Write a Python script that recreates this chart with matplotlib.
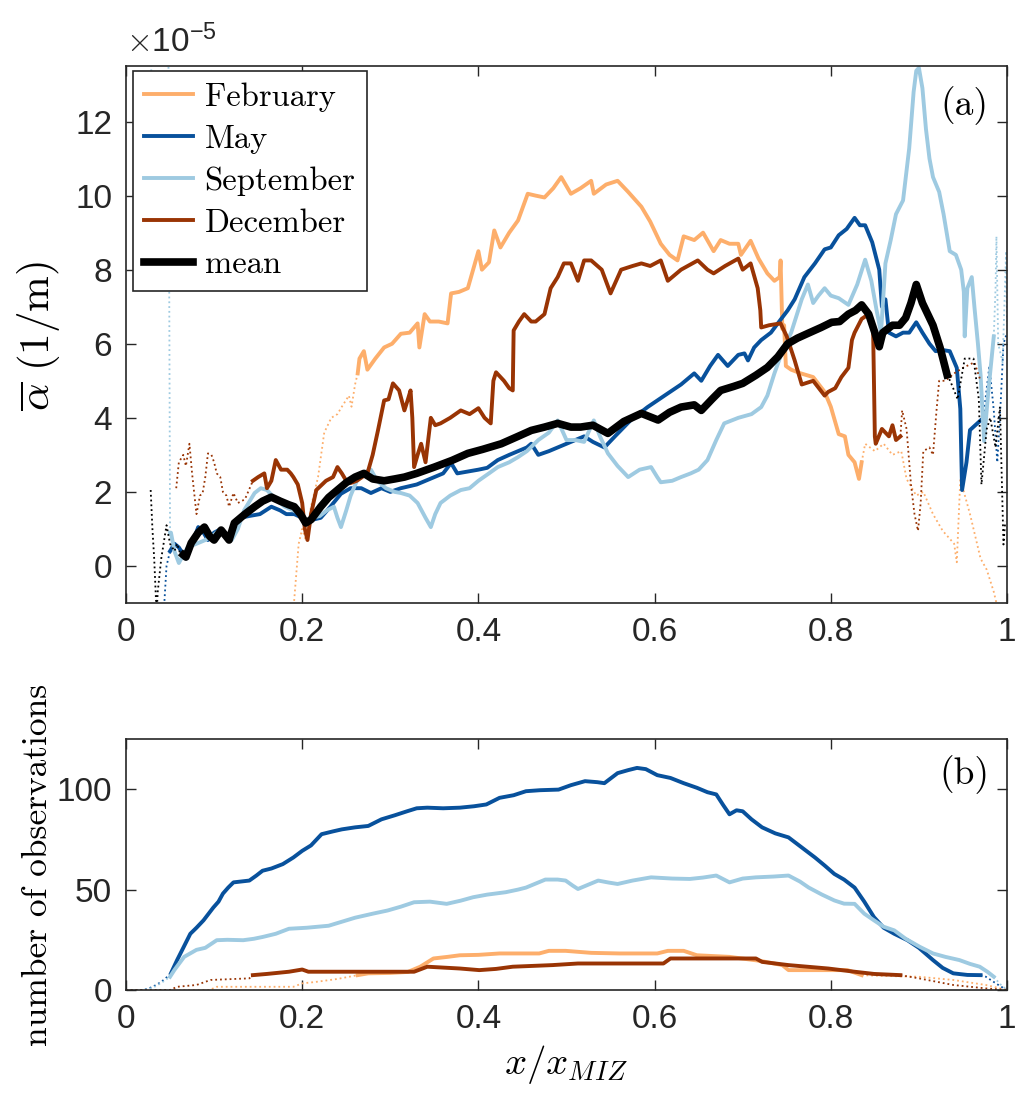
import numpy as np
import matplotlib
matplotlib.use("Agg")
import matplotlib.pyplot as plt
from matplotlib.lines import Line2D
from matplotlib.ticker import FuncFormatter

plt.rcParams['font.family'] = ['Liberation Sans', 'DejaVu Sans']
plt.rcParams['mathtext.fontset'] = 'cm'

# ---- data --------------------------------------------------------------
# (a) mean attenuation, units of 1e-5 1/m
feb_x = [0.190, 0.193, 0.196, 0.200, 0.204, 0.210, 0.218, 0.225, 0.233, 0.240, 0.245, 0.253, 0.256, 0.260, 0.263,
         0.265, 0.270, 0.274, 0.283, 0.293, 0.302, 0.312, 0.322, 0.331, 0.333, 0.339, 0.345, 0.355, 0.365, 0.369,
         0.378, 0.388, 0.400, 0.404, 0.412, 0.418, 0.425, 0.435, 0.445, 0.456, 0.465, 0.475, 0.485, 0.494, 0.505,
         0.516, 0.528, 0.531, 0.545, 0.558, 0.570, 0.585, 0.595, 0.607, 0.617, 0.626, 0.633, 0.645, 0.655, 0.667,
         0.675, 0.685, 0.695, 0.698, 0.709, 0.718, 0.728, 0.736, 0.742, 0.743, 0.745, 0.747, 0.749, 0.755, 0.766,
         0.780, 0.793, 0.800, 0.809, 0.816, 0.820, 0.827, 0.832, 0.835,
         0.839, 0.850, 0.860, 0.870, 0.880, 0.886, 0.897, 0.905, 0.916, 0.927, 0.940, 0.943, 0.947, 0.958, 0.970,
         0.977, 0.985, 0.990]
feb_a = [-1.2, -0.3, 0.6, 1.0, 0.7, 1.6, 2.4, 3.6, 4.0, 4.1, 4.3, 4.6, 4.3, 4.9, 5.2,
         5.6, 5.8, 5.3, 5.6, 5.9, 6.0, 6.27, 6.3, 6.55, 5.9, 6.8, 6.6, 6.6, 6.55, 7.36,
         7.4, 7.5, 8.5, 8.0, 8.2, 9.06, 8.6, 9.0, 9.33, 10.05, 10.0, 9.95, 10.2, 10.5, 10.05,
         10.2, 10.4, 10.05, 10.3, 10.4, 10.1, 9.7, 9.3, 8.7, 8.4, 8.25, 8.9, 8.8, 9.0, 8.5,
         8.8, 8.7, 8.7, 8.4, 8.78, 8.3, 7.9, 7.7, 7.8, 8.25, 6.4, 6.5, 5.4, 5.3, 5.2,
         5.1, 4.7, 4.3, 3.56, 3.5, 3.0, 2.8, 2.35, 2.8,
         3.3, 3.1, 3.3, 3.0, 3.1, 2.35, 1.9, 2.0, 1.4, 0.95, 0.6, 0.1, 2.35, 1.4, 0.2,
         -0.1, -0.7, -1.2]

may_x = [0.043, 0.046, 0.048,
         0.050, 0.055, 0.060, 0.068, 0.075, 0.082, 0.088, 0.093, 0.100, 0.108, 0.117, 0.124, 0.130, 0.140, 0.152,
         0.165, 0.175, 0.182, 0.191, 0.200, 0.204, 0.212, 0.221, 0.232, 0.244, 0.255, 0.267, 0.278, 0.290, 0.300,
         0.312, 0.330, 0.350, 0.360, 0.369, 0.376, 0.388, 0.400, 0.410, 0.422, 0.435, 0.445, 0.455, 0.460, 0.468,
         0.480, 0.490, 0.500, 0.510, 0.520, 0.530, 0.543, 0.555, 0.573, 0.592, 0.615, 0.630, 0.645, 0.653, 0.663,
         0.672, 0.683, 0.695, 0.702, 0.706, 0.713, 0.721, 0.732, 0.743, 0.751, 0.759, 0.770, 0.782, 0.793, 0.800,
         0.809, 0.818, 0.824, 0.827, 0.833, 0.839, 0.847, 0.855, 0.858, 0.862, 0.866, 0.874, 0.882, 0.889, 0.897,
         0.904, 0.912, 0.919, 0.927, 0.935, 0.943, 0.947, 0.949, 0.954, 0.958, 0.964, 0.970,
         0.974, 0.978, 0.980, 0.985, 0.989, 0.993, 0.996, 1.000]
may_a = [-1.2, 0.0, 0.2,
         0.4, 0.6, 0.5, 0.2, 0.6, 1.05, 0.9, 0.7, 0.9, 1.0, 0.7, 1.0, 1.3, 1.35, 1.4,
         1.6, 1.5, 1.4, 1.4, 1.3, 1.2, 1.25, 1.3, 1.6, 1.95, 2.1, 2.1, 1.97, 2.1, 2.0,
         2.1, 2.2, 2.4, 2.5, 2.78, 2.5, 2.55, 2.6, 2.65, 2.86, 3.0, 3.1, 3.2, 3.3, 3.0,
         3.1, 3.2, 3.3, 3.4, 3.5, 3.35, 3.2, 3.5, 3.94, 4.29, 4.66, 4.9, 5.2, 5.0, 5.4,
         5.7, 5.4, 5.7, 5.74, 5.55, 5.9, 6.1, 6.3, 6.65, 6.9, 7.2, 7.8, 8.17, 8.55, 8.6,
         8.93, 9.1, 9.3, 9.4, 9.2, 9.2, 8.74, 8.0, 7.0, 7.2, 6.3, 6.2, 6.3, 6.3, 6.58,
         6.3, 6.0, 5.8, 5.83, 5.8, 5.35, 4.24, 2.05, 2.8, 3.67, 3.8, 3.93,
         4.2, 5.0, 5.4, 4.2, 2.8, 4.5, 6.0, 6.3]

sep_x = [0.028, 0.029, 0.048, 0.050,
         0.051, 0.055, 0.060, 0.065, 0.070, 0.080, 0.090, 0.100, 0.108, 0.120, 0.127, 0.134, 0.146, 0.153, 0.160,
         0.170, 0.180, 0.190, 0.198, 0.205, 0.212, 0.220, 0.228, 0.236, 0.240, 0.244, 0.250, 0.255, 0.262, 0.267,
         0.278, 0.285, 0.295, 0.305, 0.312, 0.322, 0.331, 0.340, 0.346, 0.351, 0.357, 0.368, 0.380, 0.390, 0.400,
         0.412, 0.422, 0.435, 0.445, 0.455, 0.468, 0.480, 0.490, 0.500, 0.510, 0.520, 0.531, 0.538, 0.547, 0.558,
         0.570, 0.583, 0.596, 0.603, 0.607, 0.620, 0.630, 0.641, 0.650, 0.660, 0.670, 0.679, 0.695, 0.710, 0.721,
         0.728, 0.736, 0.745, 0.755, 0.767, 0.774, 0.780, 0.786, 0.793, 0.800, 0.809, 0.820, 0.830, 0.839, 0.846,
         0.852, 0.857, 0.862, 0.868, 0.874, 0.882, 0.889, 0.894, 0.897, 0.900, 0.904, 0.908, 0.912, 0.916, 0.923,
         0.928, 0.932, 0.935, 0.942, 0.948, 0.951, 0.952, 0.955, 0.960, 0.963, 0.967, 0.970, 0.974, 0.978, 0.980,
         0.985,
         0.987, 0.988, 0.990, 0.995, 0.999, 1.000]
sep_a = [10.0, 15.0, 15.0, 0.9,
         0.9, 0.4, 0.08, 0.3, 0.5, 0.6, 0.7, 0.85, 1.0, 0.7, 1.0, 1.5, 1.97, 2.1, 2.05,
         1.8, 1.6, 1.5, 1.4, 1.2, 1.3, 1.35, 1.5, 1.6, 1.3, 1.05, 1.5, 1.9, 2.3, 2.5,
         2.6, 2.3, 2.1, 2.0, 1.97, 1.9, 1.7, 1.3, 1.05, 1.4, 1.7, 1.9, 2.05, 2.1, 2.3,
         2.5, 2.67, 2.8, 2.94, 3.1, 3.4, 3.6, 3.93, 3.4, 3.4, 3.35, 3.93, 3.5, 3.04, 2.7,
         2.4, 2.6, 2.67, 2.4, 2.26, 2.3, 2.4, 2.5, 2.6, 2.86, 3.4, 3.85, 4.0, 4.1, 4.29,
         4.6, 5.2, 5.8, 6.3, 7.2, 7.6, 7.1, 7.3, 7.5, 7.3, 7.23, 7.05, 7.6, 8.27, 7.7,
         6.9, 6.3, 8.17, 8.8, 9.5, 9.87, 11.28, 12.8, 13.37, 13.45, 12.9, 11.8, 11.0, 10.5, 10.1,
         9.5, 8.93, 8.5, 8.4, 8.0, 7.4, 6.2, 7.5, 7.8, 7.0, 6.0, 5.16, 3.37, 4.5, 5.0,
         6.2,
         7.5, 8.9, 6.0, 5.5, 8.5, 6.5]

dec_x = [0.057, 0.060, 0.065, 0.068, 0.072, 0.075, 0.080, 0.084, 0.087, 0.090, 0.093, 0.097, 0.100, 0.103, 0.107,
         0.110, 0.114, 0.117, 0.122, 0.127, 0.135, 0.144,
         0.150, 0.157, 0.160, 0.165, 0.170, 0.176, 0.183, 0.187, 0.190, 0.195, 0.200, 0.203, 0.206, 0.210, 0.216,
         0.227, 0.235, 0.240, 0.245, 0.250, 0.255, 0.262, 0.274, 0.280, 0.286, 0.293, 0.298, 0.303, 0.310, 0.316,
         0.320, 0.323, 0.325, 0.327, 0.331, 0.335, 0.340, 0.346, 0.351, 0.357, 0.368, 0.380, 0.390, 0.400, 0.407,
         0.414, 0.417, 0.420, 0.429, 0.435, 0.439, 0.440, 0.446, 0.452, 0.460, 0.465, 0.475, 0.482, 0.490, 0.497,
         0.505, 0.513, 0.520, 0.528, 0.540, 0.550, 0.562, 0.575, 0.585, 0.595, 0.607, 0.615, 0.630, 0.649, 0.660,
         0.667, 0.680, 0.695, 0.700, 0.709, 0.717, 0.720, 0.721, 0.730, 0.743, 0.750, 0.759, 0.767, 0.780, 0.793,
         0.797, 0.805, 0.812, 0.820, 0.824, 0.827, 0.835, 0.843, 0.848, 0.850, 0.851, 0.858, 0.866, 0.870, 0.874,
         0.879,
         0.881, 0.886, 0.891, 0.895, 0.899, 0.902, 0.905, 0.912, 0.916, 0.920, 0.923, 0.930, 0.940, 0.950, 0.963,
         0.970]
dec_a = [2.1, 2.8, 3.0, 2.7, 3.3, 2.5, 1.4, 1.9, 1.97, 2.4, 3.04, 3.0, 2.8, 2.5, 2.4,
         2.0, 1.9, 1.6, 1.97, 1.7, 1.8, 2.3,
         2.4, 2.5, 2.1, 2.3, 2.86, 2.6, 2.6, 2.5, 2.4, 2.2, 1.7, 1.0, 0.7, 1.4, 2.05,
         2.3, 2.4, 2.67, 2.5, 2.3, 2.24, 2.3, 2.5, 3.0, 3.66, 4.47, 4.5, 4.93, 4.74, 4.2,
         4.5, 4.74, 4.0, 2.67, 3.0, 3.3, 2.8, 4.0, 3.8, 3.85, 4.0, 4.2, 4.1, 4.26, 4.0,
         3.85, 5.0, 5.23, 5.0, 4.8, 4.74, 6.36, 6.6, 6.8, 6.6, 6.6, 6.8, 7.5, 7.8, 8.17,
         8.17, 7.7, 8.25, 8.25, 8.0, 7.36, 8.0, 8.1, 8.17, 8.1, 8.25, 7.7, 8.0, 8.25, 8.0,
         7.9, 8.1, 8.3, 8.0, 8.17, 7.5, 6.9, 6.44, 6.5, 6.55, 6.2, 5.55, 4.9, 5.0, 4.6,
         4.7, 4.8, 5.1, 5.35, 6.1, 6.3, 6.67, 6.8, 6.4, 3.5, 3.3, 3.7, 3.5, 3.8, 3.4,
         3.5,
         4.2, 3.7, 2.2, 1.4, 0.95, 1.7, 3.1, 3.2, 3.0, 4.2, 5.0, 5.0, 5.2, 5.35, 5.5,
         5.0]

mean_x = [0.028, 0.030, 0.032, 0.034, 0.035, 0.036, 0.040, 0.042, 0.046, 0.050, 0.055, 0.058, 0.062, 0.065,
          0.068, 0.074, 0.082, 0.089, 0.095, 0.100, 0.108, 0.117, 0.123, 0.135, 0.146, 0.155, 0.165, 0.175, 0.185,
          0.191, 0.198, 0.204, 0.210, 0.221, 0.230, 0.240, 0.250, 0.260, 0.270, 0.280, 0.293, 0.305, 0.316, 0.330,
          0.350, 0.370, 0.388, 0.405, 0.426, 0.445, 0.460, 0.475, 0.490, 0.505, 0.516, 0.530, 0.547, 0.565, 0.585,
          0.604, 0.617, 0.630, 0.645, 0.653, 0.665, 0.675, 0.690, 0.700, 0.715, 0.728, 0.740, 0.751, 0.762, 0.774,
          0.789, 0.801, 0.810, 0.820, 0.828, 0.835, 0.843, 0.850, 0.855, 0.859, 0.870, 0.878, 0.885, 0.891, 0.897,
          0.904, 0.910, 0.916, 0.924, 0.932,
          0.936, 0.944, 0.952, 0.962, 0.968, 0.971, 0.977, 0.981, 0.987, 0.992, 0.996, 0.998]
mean_a = [2.05, 1.0, 0.2, -0.9, -1.2, -0.7, 0.2, 0.5, 1.1, 0.6, 0.4, 0.6, 0.3, 0.3,
          0.24, 0.62, 0.9, 1.05, 0.8, 0.7, 0.97, 0.7, 1.16, 1.4, 1.6, 1.75, 1.86, 1.75, 1.65,
          1.6, 1.4, 1.16, 1.25, 1.6, 1.85, 2.05, 2.25, 2.4, 2.5, 2.35, 2.3, 2.35, 2.4, 2.5,
          2.67, 2.85, 3.04, 3.15, 3.3, 3.5, 3.66, 3.75, 3.85, 3.75, 3.75, 3.8, 3.58, 3.9, 4.12,
          3.94, 4.15, 4.29, 4.35, 4.2, 4.5, 4.74, 4.85, 4.93, 5.15, 5.36, 5.65, 6.0, 6.15, 6.28,
          6.44, 6.58, 6.6, 6.8, 6.9, 7.05, 6.8, 6.3, 5.92, 6.3, 6.5, 6.5, 6.7, 7.1, 7.6,
          7.1, 6.8, 6.5, 5.9, 5.16,
          4.97, 4.5, 5.6, 5.6, 4.5, 2.2, 3.7, 4.0, 3.2, 4.3, 0.58, 1.2]

# (b) number of observations
feb_nx = [0.000, 0.095, 0.103, 0.190, 0.200, 0.215, 0.240, 0.263, 0.275, 0.300, 0.320, 0.334, 0.349, 0.365,
          0.379, 0.400, 0.424, 0.469, 0.480, 0.499, 0.528, 0.560, 0.603, 0.615, 0.633, 0.648, 0.685, 0.720, 0.745,
          0.752, 0.819, 0.835, 0.860, 0.900, 0.939, 0.976, 1.000]
feb_n = [0, 0, 1.6, 1.6, 3.3, 4, 5.5, 7.4, 8.3, 8.5, 9, 11.6, 15.7, 16.5,
         17.3, 17.5, 18.2, 18.2, 19.5, 19.5, 18.5, 18.2, 18.2, 19.5, 19.5, 17.3, 16.5, 14.5, 12.4,
         9.9, 9.9, 7.4, 7, 6.6, 5, 2.5, 0]

may_nx = [0.000, 0.020, 0.030, 0.040, 0.048, 0.051, 0.058, 0.065, 0.073, 0.080, 0.088, 0.099, 0.105, 0.110,
          0.116, 0.122, 0.130, 0.140, 0.148, 0.155, 0.165, 0.178, 0.190, 0.200, 0.210, 0.222, 0.235, 0.245, 0.260,
          0.275, 0.290, 0.305, 0.319, 0.330, 0.342, 0.360, 0.379, 0.395, 0.409, 0.424, 0.440, 0.454, 0.470, 0.491,
          0.505, 0.521, 0.535, 0.543, 0.558, 0.570, 0.580, 0.590, 0.603, 0.618, 0.633, 0.648, 0.660, 0.670, 0.678,
          0.685, 0.693, 0.700, 0.710, 0.722, 0.737, 0.752, 0.767, 0.782, 0.793, 0.804, 0.815, 0.827, 0.838, 0.849,
          0.860, 0.872, 0.887, 0.900, 0.916, 0.927, 0.939, 0.955, 0.970, 0.976, 0.985, 0.992, 1.000]
may_n = [0, 0, 1.5, 4, 7, 8.3, 14.9, 21, 28, 31, 34.7, 41, 44, 48,
         51, 53.6, 54, 54.5, 57, 59.4, 60.5, 62.7, 66, 69.3, 72, 77.6, 79, 80, 81,
         81.7, 85, 87, 89, 90.5, 90.8, 90.5, 90.8, 91.5, 92.4, 95.7, 97, 99, 99.5, 99.8,
         102, 104, 103.5, 103, 108, 109.5, 110.6, 110, 107, 105.6, 103, 100.7, 98.5, 97.4, 92,
         87.5, 89.5, 89, 85, 81, 78, 76, 71, 66, 62, 57.8, 55, 51, 44, 36.3,
         31, 28, 24.8, 21, 14.9, 11, 8.3, 7.5, 7.4, 6.6, 4, 2, 0]

sep_nx = [0.000, 0.020, 0.030, 0.040, 0.050, 0.055, 0.066, 0.080, 0.090, 0.103, 0.115, 0.133, 0.145, 0.155,
          0.170, 0.185, 0.205, 0.230, 0.245, 0.260, 0.280, 0.297, 0.312, 0.327, 0.345, 0.364, 0.380, 0.394, 0.410,
          0.431, 0.445, 0.454, 0.465, 0.476, 0.490, 0.499, 0.507, 0.513, 0.525, 0.536, 0.548, 0.558, 0.575, 0.596,
          0.620, 0.640, 0.655, 0.670, 0.685, 0.700, 0.715, 0.735, 0.752, 0.765, 0.775, 0.790, 0.804, 0.815, 0.827,
          0.838, 0.849, 0.860, 0.872, 0.885, 0.901, 0.916, 0.930, 0.946, 0.958, 0.969, 0.978, 0.985, 0.992, 1.000]
sep_n = [0, 0, 1, 3.5, 6.6, 10, 16.5, 20, 21, 24.8, 25, 24.8, 25.5, 26.4,
         28, 30.5, 31, 32, 34, 36, 38, 39.6, 41.5, 43.7, 44, 42.9, 44.5, 46.2, 47.5,
         48.7, 50, 51, 53, 55, 55, 54.5, 52, 50.3, 52.5, 54.5, 53.5, 52.8, 54.5, 56.1,
         55.5, 55.3, 56, 57, 53.6, 55.5, 56.1, 56.5, 57, 54, 51, 47.5, 44.6, 43, 42.9,
         38, 34.7, 31.5, 29.7, 25.5, 21.5, 18.2, 16.5, 14.9, 13, 11.6, 9, 6.6, 3, 0]

dec_nx = [0.000, 0.050, 0.058, 0.080, 0.096, 0.140, 0.144, 0.160, 0.185, 0.200, 0.207, 0.327, 0.342, 0.379,
          0.401, 0.420, 0.439, 0.484, 0.513, 0.610, 0.618, 0.715, 0.722, 0.752, 0.797, 0.827, 0.849, 0.879,
          0.900, 0.939, 0.976, 1.000]
dec_n = [0, 0, 1.6, 2.5, 5, 5.8, 7.4, 8, 9.1, 10.2, 9.1, 9.1, 11.6, 10.7,
         9.9, 10.5, 11.6, 12.4, 13.2, 13.2, 15.7, 15.7, 14.0, 12.4, 10.7, 9.1, 8.0, 7.4,
         5.8, 2.5, 0.8, 0]

# x range where each month has enough observations (drawn solid)
feb_ok = (0.263, 0.835)
may_ok = (0.050, 0.970)
sep_ok = (0.050, 0.985)
dec_ok = (0.144, 0.879)
mean_ok = (0.065, 0.932)

c_feb = '#fdae6b'
c_may = '#08519c'
c_sep = '#9ecae1'
c_dec = '#993404'
c_mean = 'k'
c_axis = '#262626'

def draw(ax, x, y, ok, color, lw):
    x = np.asarray(x, float)
    y = np.asarray(y, float)
    lo, hi = ok
    left = x <= lo + 1e-9
    right = x >= hi - 1e-9
    mid = (x >= lo - 1e-9) & (x <= hi + 1e-9)
    ax.plot(x[left], y[left], ':', color=color, lw=1.3)
    ax.plot(x[right], y[right], ':', color=color, lw=1.3)
    ax.plot(x[mid], y[mid], '-', color=color, lw=lw, solid_joinstyle='round')

def style(ax):
    for s in ax.spines.values():
        s.set_color(c_axis)
        s.set_linewidth(1.2)
    ax.tick_params(direction='in', length=7, width=1.0, colors=c_axis,
                   top=True, right=True, labelsize=24, pad=10)
    ax.xaxis.set_major_formatter(FuncFormatter(lambda v, p: '%g' % v))

fig = plt.figure(figsize=(10.28, 10.98), dpi=100)
ax1 = fig.add_axes([126 / 1028, 1 - 603 / 1098, 881 / 1028, 537 / 1098])
ax2 = fig.add_axes([126 / 1028, 1 - 990 / 1098, 881 / 1028, 251 / 1098])

lw = 2.8
draw(ax1, feb_x, feb_a, feb_ok, c_feb, lw)
draw(ax1, may_x, may_a, may_ok, c_may, lw)
draw(ax1, sep_x, sep_a, sep_ok, c_sep, lw)
draw(ax1, dec_x, dec_a, dec_ok, c_dec, lw)
draw(ax1, mean_x, mean_a, mean_ok, c_mean, 5.5)

ax1.set_xlim(0, 1)
ax1.set_ylim(-1, 13.5)
ax1.set_xticks(np.arange(0, 1.01, 0.2))
ax1.set_yticks(np.arange(0, 13, 2))
style(ax1)

handles = [Line2D([], [], color=c_feb, lw=lw), Line2D([], [], color=c_may, lw=lw),
           Line2D([], [], color=c_sep, lw=lw), Line2D([], [], color=c_dec, lw=lw),
           Line2D([], [], color=c_mean, lw=5.5)]
leg = ax1.legend(handles, ['February', 'May', 'September', 'December', 'mean'],
                 loc='upper left', bbox_to_anchor=(0.008, 0.991), borderaxespad=0,
                 prop={'family': 'cmr10', 'size': 23.5}, fancybox=False, framealpha=1,
                 edgecolor=c_axis, handlelength=1.5, handletextpad=0.34,
                 labelspacing=0.39, borderpad=0.35)
leg.get_frame().set_linewidth(1.2)

ax1.text(0.952, 0.927, '(a)', transform=ax1.transAxes, ha='center', va='center',
         family='cmr10', fontsize=27)
ax1.text(0.0, 1.012, r'$\times\mathregular{10^{-5}}$', transform=ax1.transAxes,
         ha='left', va='bottom', fontsize=24, color=c_axis)

draw(ax2, feb_nx, feb_n, feb_ok, c_feb, lw)
draw(ax2, may_nx, may_n, may_ok, c_may, lw)
draw(ax2, sep_nx, sep_n, sep_ok, c_sep, lw)
draw(ax2, dec_nx, dec_n, dec_ok, c_dec, lw)

ax2.set_xlim(0, 1)
ax2.set_ylim(0, 125)
ax2.set_xticks(np.arange(0, 1.01, 0.2))
ax2.set_yticks([0, 50, 100])
style(ax2)
ax2.text(0.952, 0.857, '(b)', transform=ax2.transAxes, ha='center', va='center',
         family='cmr10', fontsize=27)

fig.text(38 / 1028, 1 - 336 / 1098, r'$\overline{\alpha}\ (1/\mathrm{m})$', rotation=90,
         ha='center', va='center', fontsize=31)
fig.text(38 / 1028, 1 - 865 / 1098, 'number of observations', rotation=90,
         ha='center', va='center', family='cmr10', fontsize=25.5)
fig.text(566 / 1028, 1 - 1065 / 1098, r'$x/x_{MIZ}$', ha='center', va='center', fontsize=28)

fig.savefig('out.png', dpi=100)
